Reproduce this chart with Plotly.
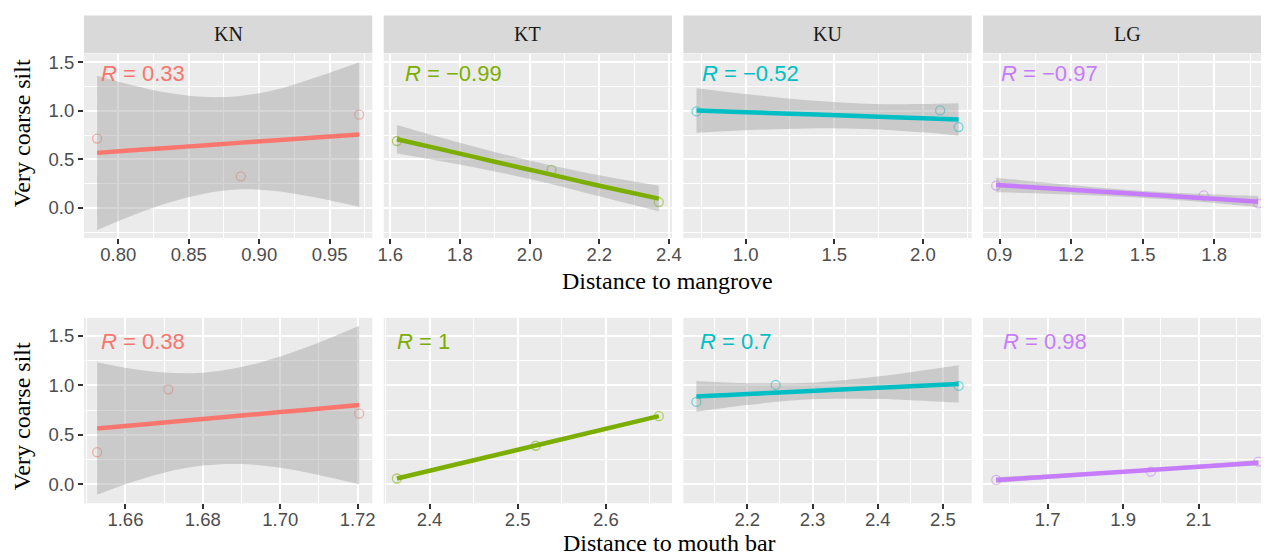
import plotly.graph_objects as go

# ---------------- data ----------------
sites = ["KN", "KT", "KU", "LG"]
site_colors = ["#F8766D", "#7CAE00", "#00BFC4", "#C77CFF"]

# very coarse silt at the three stations of each site
silt_KN = [0.713, 0.325, 0.959]
silt_KT = [0.688, 0.390, 0.060]
silt_KU = [0.993, 1.003, 0.832]
silt_LG = [0.229, 0.129, 0.046]

# distance to mangrove
mangrove_KN = [0.785, 0.887, 0.971]
mangrove_KT = [1.619, 2.063, 2.371]
mangrove_KU = [0.723, 2.097, 2.201]
mangrove_LG = [0.886, 1.756, 1.984]

# distance to mouth bar
mouth_KN = [1.7204, 1.6527, 1.6711]
mouth_KT = [2.660, 2.5205, 2.363]
mouth_KU = [2.524, 2.2435, 2.122]
mouth_LG = [2.2586, 1.9736, 1.564]

# correlation labels
r_mangrove = ["0.33", "\u22120.99", "\u22120.52", "\u22120.97"]
r_mouth = ["0.38", "1", "0.7", "0.98"]

# fitted lines and confidence bands
fit_mangrove_KN_x = [0.785, 0.81, 0.835, 0.86, 0.885, 0.91, 0.94, 0.971]
fit_mangrove_KN_y = [0.566, 0.592, 0.617, 0.643, 0.669, 0.694, 0.725, 0.756]
fit_mangrove_KN_lo = [-0.229, -0.079, 0.049, 0.143, 0.188, 0.177, 0.107, 0.010]
fit_mangrove_KN_hi = [1.361, 1.263, 1.185, 1.143, 1.150, 1.211, 1.343, 1.500]

fit_mangrove_KT_x = [1.619, 1.75, 1.9, 2.05, 2.2, 2.371]
fit_mangrove_KT_y = [0.707, 0.599, 0.475, 0.352, 0.228, 0.095]
fit_mangrove_KT_lo = [0.560, 0.478, 0.375, 0.257, 0.120, -0.035]
fit_mangrove_KT_hi = [0.854, 0.720, 0.576, 0.447, 0.336, 0.228]

fit_mangrove_KU_x = [0.723, 1.0, 1.35, 1.674, 2.0, 2.201]
fit_mangrove_KU_y = [1.002, 0.985, 0.963, 0.943, 0.923, 0.910]
fit_mangrove_KU_lo = [0.772, 0.798, 0.818, 0.813, 0.778, 0.743]
fit_mangrove_KU_hi = [1.232, 1.172, 1.108, 1.073, 1.068, 1.077]

fit_mangrove_LG_x = [0.886, 1.1, 1.35, 1.6, 1.8, 1.984]
fit_mangrove_LG_y = [0.236, 0.2025, 0.163, 0.124, 0.093, 0.064]
fit_mangrove_LG_lo = [0.161, 0.146, 0.123, 0.0885, 0.049, 0.007]
fit_mangrove_LG_hi = [0.311, 0.259, 0.203, 0.1595, 0.137, 0.121]

fit_mouth_KN_x = [1.6527, 1.66, 1.67, 1.68, 1.69, 1.70, 1.71, 1.7204]
fit_mouth_KN_y = [0.564, 0.589, 0.624, 0.659, 0.694, 0.729, 0.763, 0.800]
fit_mouth_KN_lo = [-0.104, 0.002, 0.119, 0.190, 0.205, 0.168, 0.096, 0.001]
fit_mouth_KN_hi = [1.232, 1.177, 1.129, 1.127, 1.183, 1.290, 1.430, 1.599]

fit_mouth_KT_x = [2.363, 2.5145, 2.660]
fit_mouth_KT_y = [0.060, 0.380, 0.688]
fit_mouth_KT_lo = [0.048, 0.375, 0.676]
fit_mouth_KT_hi = [0.072, 0.385, 0.700]

fit_mouth_KU_x = [2.122, 2.16, 2.2, 2.2965, 2.4, 2.45, 2.524]
fit_mouth_KU_y = [0.8865, 0.8985, 0.911, 0.9417, 0.9744, 0.9902, 1.0136]
fit_mouth_KU_lo = [0.732, 0.767, 0.801, 0.858, 0.861, 0.849, 0.826]
fit_mouth_KU_hi = [1.042, 1.030, 1.021, 1.026, 1.088, 1.132, 1.202]

fit_mouth_LG_x = [1.564, 1.75, 1.932, 2.1, 2.2586]
fit_mouth_LG_y = [0.0435, 0.0904, 0.1363, 0.1787, 0.2186]
fit_mouth_LG_lo = [0.0135, 0.0704, 0.1213, 0.1587, 0.1906]
fit_mouth_LG_hi = [0.0735, 0.1104, 0.1513, 0.1987, 0.2466]

# ---------------- assemble panels ----------------
silt = [silt_KN, silt_KT, silt_KU, silt_LG]
mangrove = [mangrove_KN, mangrove_KT, mangrove_KU, mangrove_LG]
mouth = [mouth_KN, mouth_KT, mouth_KU, mouth_LG]
fits_top = [
    (fit_mangrove_KN_x, fit_mangrove_KN_y, fit_mangrove_KN_lo, fit_mangrove_KN_hi),
    (fit_mangrove_KT_x, fit_mangrove_KT_y, fit_mangrove_KT_lo, fit_mangrove_KT_hi),
    (fit_mangrove_KU_x, fit_mangrove_KU_y, fit_mangrove_KU_lo, fit_mangrove_KU_hi),
    (fit_mangrove_LG_x, fit_mangrove_LG_y, fit_mangrove_LG_lo, fit_mangrove_LG_hi),
]
fits_bot = [
    (fit_mouth_KN_x, fit_mouth_KN_y, fit_mouth_KN_lo, fit_mouth_KN_hi),
    (fit_mouth_KT_x, fit_mouth_KT_y, fit_mouth_KT_lo, fit_mouth_KT_hi),
    (fit_mouth_KU_x, fit_mouth_KU_y, fit_mouth_KU_lo, fit_mouth_KU_hi),
    (fit_mouth_LG_x, fit_mouth_LG_y, fit_mouth_LG_lo, fit_mouth_LG_hi),
]

W, H = 1271, 556
col_px = [(79, 371), (382.5, 674.5), (686, 978), (989.5, 1271)]
row_px = [(52, 237), (317, 503)]
x_ranges = [
    [[0.7757, 0.9803], [1.581, 2.409], [0.649, 2.275], [0.831, 1.996]],
    [[1.6493, 1.7238], [2.348, 2.675], [2.102, 2.544], [1.529, 2.2655]],
]
x_dtick = [[0.05, 0.2, 0.5, 0.3], [0.02, 0.1, 0.1, 0.2]]
x_tick0 = [[0.8, 1.6, 1.0, 0.9], [1.66, 2.4, 2.2, 1.7]]
x_fmt = [[".2f", ".1f", ".1f", ".1f"], [".2f", ".1f", ".1f", ".1f"]]
y_ranges = [[-0.312, 1.586], [-0.189, 1.679]]

fig = go.Figure()
tick_font = dict(family="Liberation Sans, Arial", size=18.5, color="#4d4d4d")
serif = "Liberation Serif, Times New Roman, serif"

layout = {}
for r in range(2):
    for c in range(4):
        n = r * 4 + c + 1
        xs = mangrove[c] if r == 0 else mouth[c]
        fx, fy, flo, fhi = (fits_top if r == 0 else fits_bot)[c]
        xa = "x" if n == 1 else f"x{n}"
        ya = "y" if n == 1 else f"y{n}"
        col = site_colors[c]
        fig.add_trace(go.Scatter(x=xs, y=silt[c], mode="markers", xaxis=xa, yaxis=ya,
                                 marker=dict(symbol="circle-open", size=9, color=col,
                                             opacity=0.55, line=dict(width=1.3, color=col)),
                                 showlegend=False, hoverinfo="skip"))
        fig.add_trace(go.Scatter(x=fx, y=flo, mode="lines", xaxis=xa, yaxis=ya,
                                 line=dict(width=0, shape="spline", color="rgba(0,0,0,0)"),
                                 showlegend=False, hoverinfo="skip"))
        fig.add_trace(go.Scatter(x=fx, y=fhi, mode="lines", xaxis=xa, yaxis=ya, fill="tonexty",
                                 fillcolor="rgba(153,153,153,0.4)",
                                 line=dict(width=0, shape="spline", color="rgba(0,0,0,0)"),
                                 showlegend=False, hoverinfo="skip"))
        fig.add_trace(go.Scatter(x=fx, y=fy, mode="lines", xaxis=xa, yaxis=ya,
                                 line=dict(width=4.5, color=col, shape="spline"),
                                 showlegend=False, hoverinfo="skip"))

        x0, x1 = col_px[c]
        y0, y1 = row_px[r]
        layout["xaxis" if n == 1 else f"xaxis{n}"] = dict(
            domain=[x0 / W, x1 / W], anchor=ya, range=x_ranges[r][c],
            tick0=x_tick0[r][c], dtick=x_dtick[r][c], tickformat=x_fmt[r][c],
            showgrid=True, gridcolor="white", gridwidth=1.8, zeroline=False, showline=False,
            ticks="outside", ticklen=5, tickwidth=1.6, tickcolor="#333333",
            tickfont=tick_font, ticklabelstandoff=-5,
            minor=dict(dtick=x_dtick[r][c] / 2, tick0=x_tick0[r][c], showgrid=True,
                       gridcolor="white", gridwidth=0.9, ticks=""),
        )
        first = (c == 0)
        layout["yaxis" if n == 1 else f"yaxis{n}"] = dict(
            domain=[(H - y1) / H, (H - y0) / H], anchor=xa, range=y_ranges[r],
            tick0=0, dtick=0.5, tickformat=".1f",
            showgrid=True, gridcolor="white", gridwidth=1.8, zeroline=False, showline=False,
            ticks="outside" if first else "", ticklen=5, tickwidth=1.6, tickcolor="#333333",
            showticklabels=first, tickfont=tick_font,
            minor=dict(dtick=0.25, tick0=0, showgrid=True, gridcolor="white", gridwidth=0.9, ticks=""),
        )

shapes = []
annotations = []
strip_y0, strip_y1 = 13.5, 51.5
strip_right = [371, 674.5, 978, 1281.5]
for c in range(4):
    x0, x1 = col_px[c]
    shapes.append(dict(type="rect", xref="paper", yref="paper", x0=x0 / W, x1=x1 / W,
                       y0=(H - strip_y1) / H, y1=(H - strip_y0) / H,
                       fillcolor="#d9d9d9", line=dict(width=0), layer="below"))
    annotations.append(dict(text=sites[c], xref="paper", yref="paper",
                            x=((x0 + strip_right[c]) / 2) / W, y=(H - 32.5) / H,
                            xanchor="center", yanchor="middle", showarrow=False,
                            font=dict(family=serif, size=20, color="#1a1a1a")))

r_left_px = [[94, 401.7, 702.7, 1006], [94, 394, 700.7, 1007.3]]
r_mid_px = [72, 340.5]
for r in range(2):
    labels = r_mangrove if r == 0 else r_mouth
    for c in range(4):
        annotations.append(dict(text=f"<i>R</i> = {labels[c]}", xref="paper", yref="paper",
                                x=r_left_px[r][c] / W, y=(H - r_mid_px[r]) / H,
                                xanchor="left", yanchor="middle", showarrow=False,
                                font=dict(family="Liberation Sans, Arial", size=22, color=site_colors[c])))

for ymid in (132, 416):
    annotations.append(dict(text="Very coarse silt", xref="paper", yref="paper", x=16 / W, y=(H - ymid) / H,
                            textangle=-90, xanchor="center", yanchor="middle", showarrow=False,
                            font=dict(family=serif, size=24, color="black")))
annotations.append(dict(text="Distance to mangrove", xref="paper", yref="paper", x=670 / W, y=(H - 280) / H,
                        xanchor="center", yanchor="middle", showarrow=False,
                        font=dict(family=serif, size=24, color="black")))
annotations.append(dict(text="Distance to mouth bar", xref="paper", yref="paper", x=672 / W, y=(H - 543) / H,
                        xanchor="center", yanchor="middle", showarrow=False,
                        font=dict(family=serif, size=24, color="black")))

fig.update_layout(**layout)
fig.update_layout(width=W, height=H, margin=dict(l=0, r=0, t=0, b=0),
                  plot_bgcolor="#ebebeb", paper_bgcolor="white",
                  shapes=shapes, annotations=annotations, showlegend=False)

fig.write_html("out.html", config={"displayModeBar": False})
